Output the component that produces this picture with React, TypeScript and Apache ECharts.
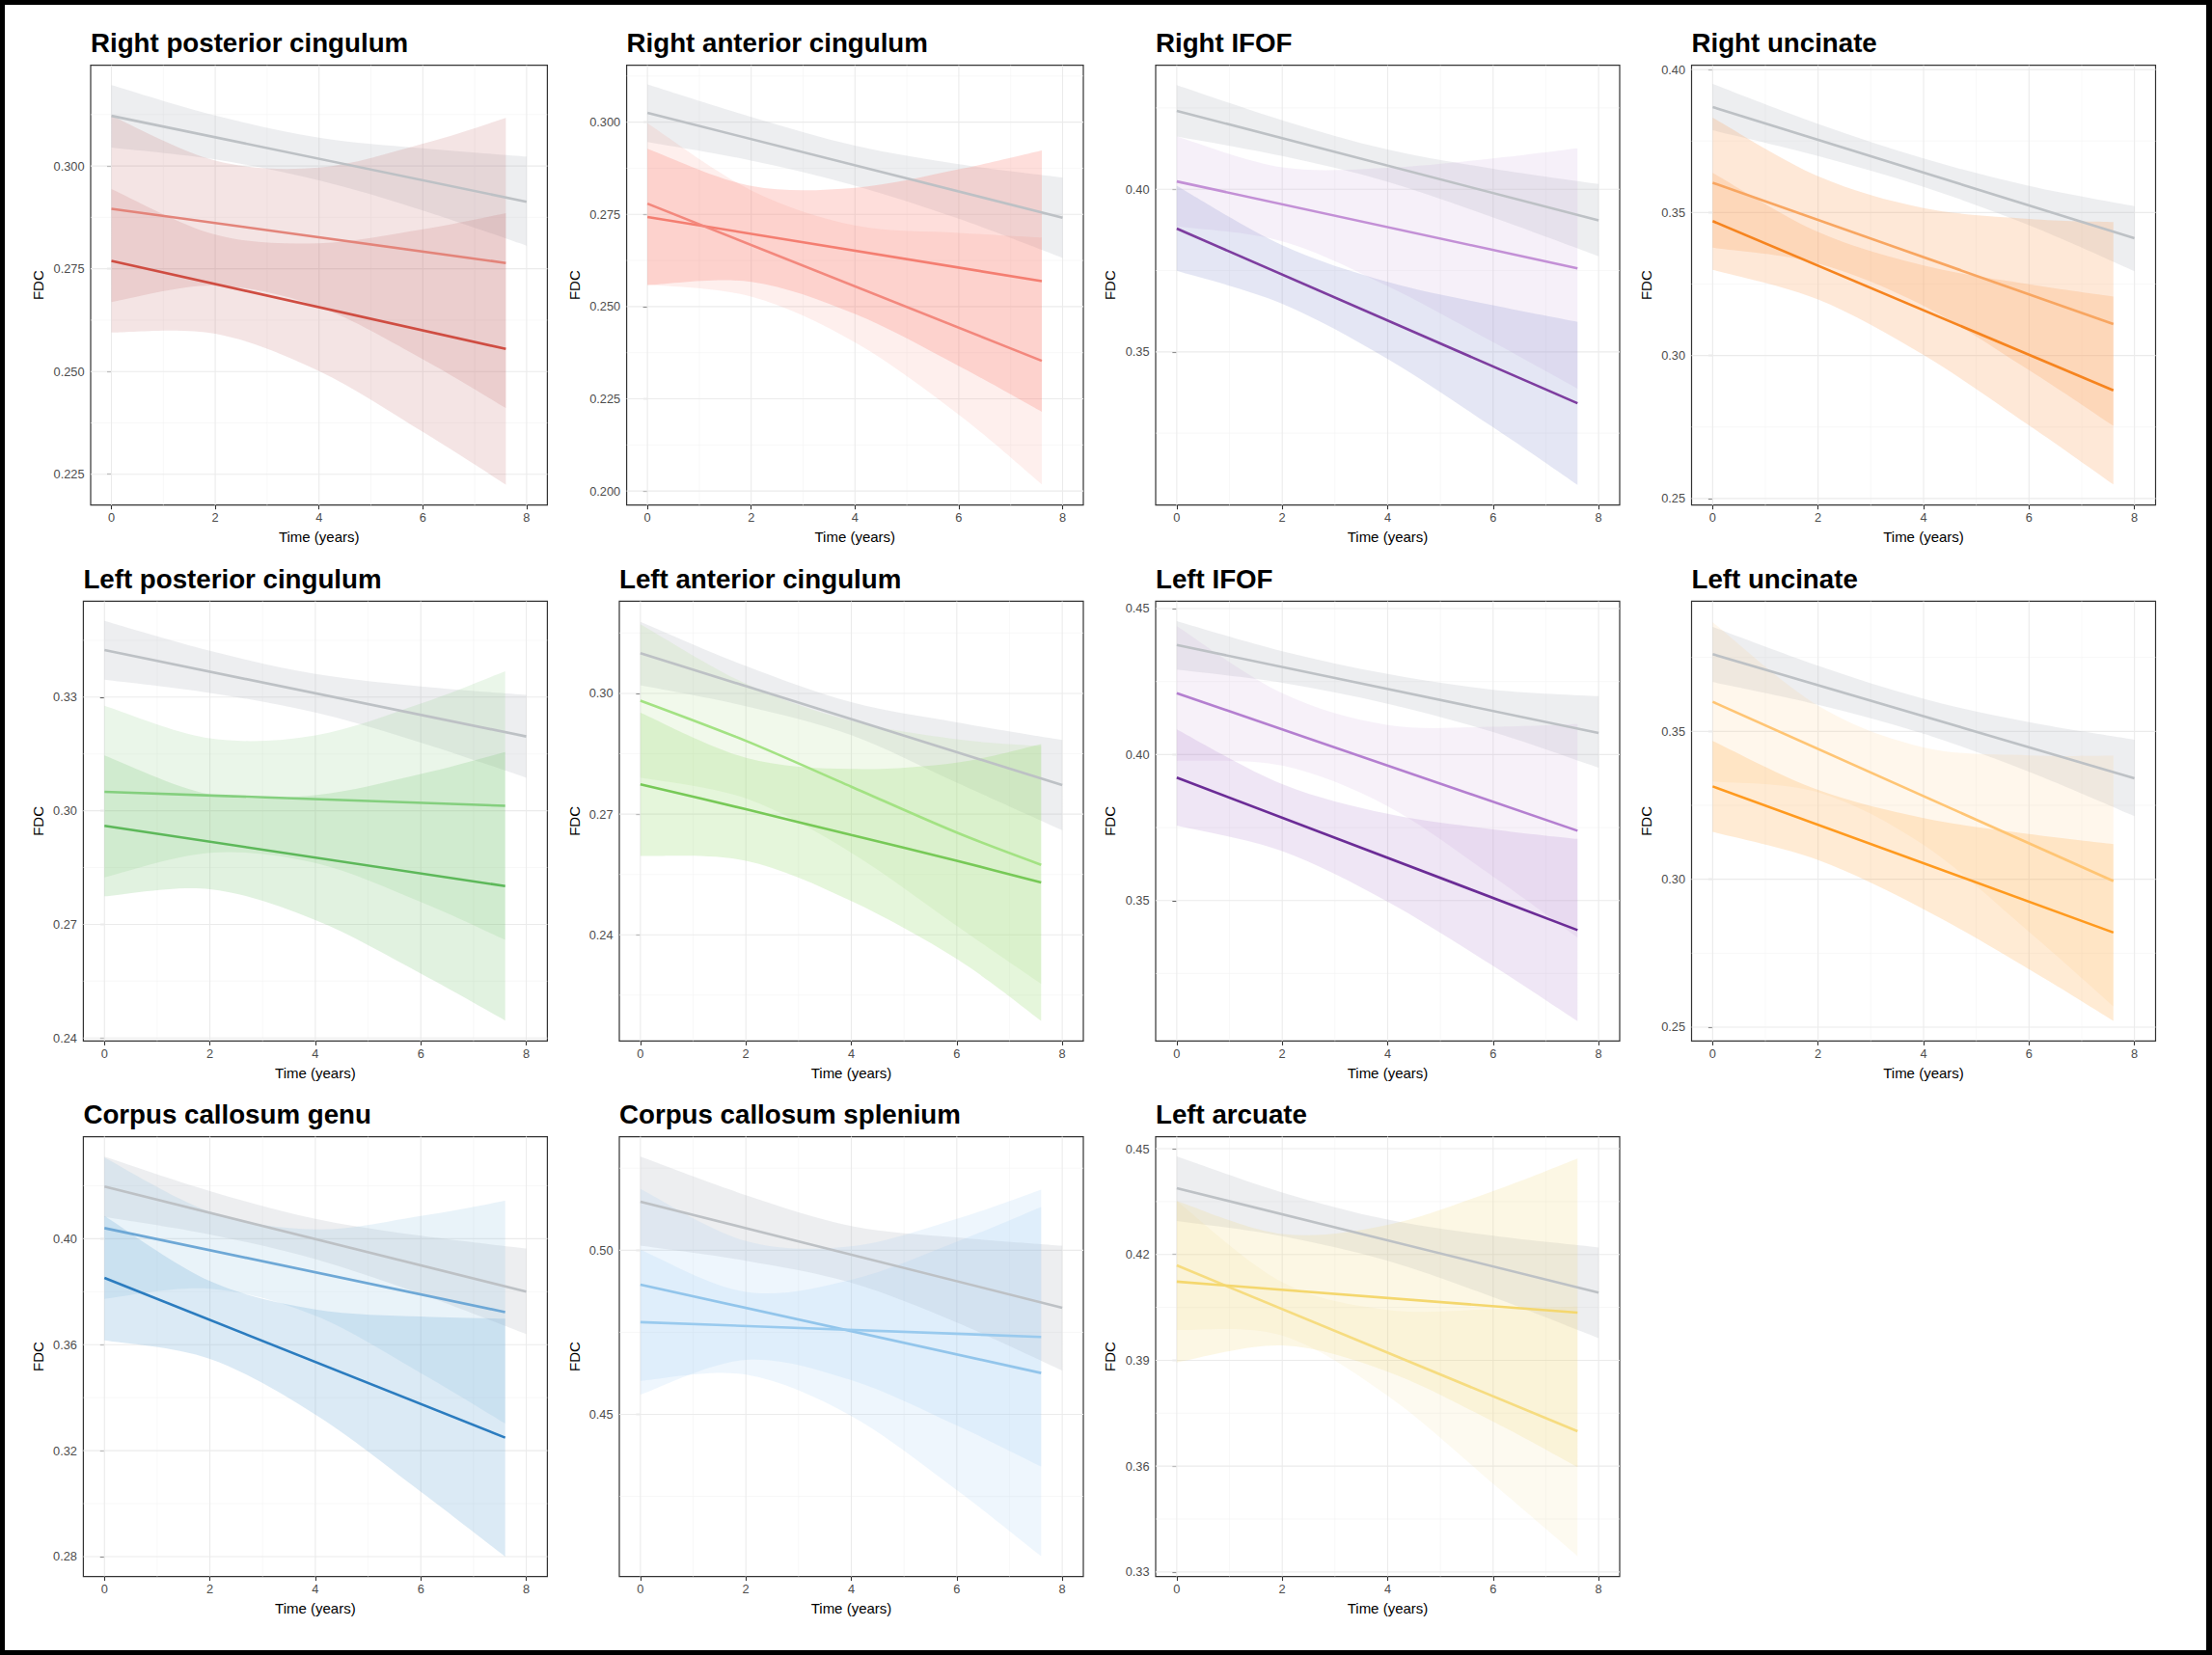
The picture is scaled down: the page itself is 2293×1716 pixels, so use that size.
import React, { useEffect, useRef } from 'react';
import * as echarts from 'echarts';

const W = 2293;
const H = 1716;
const FONT = '"Liberation Sans", Arial, Helvetica, sans-serif';

// ---------------- data ----------------
const titles = [
  'Right posterior cingulum', 'Right anterior cingulum', 'Right IFOF', 'Right uncinate',
  'Left posterior cingulum', 'Left anterior cingulum', 'Left IFOF', 'Left uncinate',
  'Corpus callosum genu', 'Corpus callosum splenium', 'Left arcuate',
];

const xTicks = [0, 2, 4, 6, 8];
const xMinorTicks = [1, 3, 5, 7];
const xRange = [-0.4, 8.4];
const bandX = [0, 2, 4, 6, 7.6];
const greyBandX = [0, 2, 4, 6, 8];
const lineX = [0, 7.6];
const greyLineX = [0, 8];

const yTicks = [
  [0.225, 0.25, 0.275, 0.3],
  [0.2, 0.225, 0.25, 0.275, 0.3],
  [0.35, 0.4],
  [0.25, 0.3, 0.35, 0.4],
  [0.24, 0.27, 0.3, 0.33],
  [0.24, 0.27, 0.3],
  [0.35, 0.4, 0.45],
  [0.25, 0.3, 0.35],
  [0.28, 0.32, 0.36, 0.4],
  [0.45, 0.5],
  [0.33, 0.36, 0.39, 0.42, 0.45],
];
const yDecimals = [3, 3, 2, 2, 2, 2, 2, 2, 2, 2, 2];
const yRange = [
  [0.2175, 0.3245],
  [0.1962, 0.3154],
  [0.3029, 0.4381],
  [0.2477, 0.4015],
  [0.2392, 0.3553],
  [0.2136, 0.3229],
  [0.3019, 0.4525],
  [0.2453, 0.394],
  [0.2725, 0.4385],
  [0.4006, 0.5346],
  [0.3287, 0.4534],
];

const greyLine = [
  [0.3122, 0.2913], [0.3025, 0.2741], [0.4241, 0.3904], [0.3869, 0.341],
  [0.3424, 0.3196], [0.31, 0.2772], [0.4375, 0.4074], [0.3761, 0.3341],
  [0.4197, 0.38], [0.5148, 0.4825], [0.4388, 0.4092],
];
const greyUpper = [
  [0.3197, 0.3123, 0.3069, 0.3043, 0.3023],
  [0.3102, 0.3014, 0.2936, 0.2886, 0.285],
  [0.432, 0.4212, 0.4122, 0.4063, 0.4016],
  [0.395, 0.381, 0.3689, 0.3593, 0.3522],
  [0.3501, 0.3422, 0.3361, 0.3328, 0.3306],
  [0.3178, 0.3068, 0.2978, 0.2928, 0.2884],
  [0.4457, 0.4354, 0.4276, 0.4222, 0.42],
  [0.3853, 0.3722, 0.361, 0.3531, 0.3472],
  [0.431, 0.418, 0.4075, 0.4011, 0.3963],
  [0.5285, 0.5168, 0.5074, 0.5039, 0.5014],
  [0.4478, 0.4376, 0.4299, 0.4253, 0.422],
];
const greyLower = [
  [0.3045, 0.3016, 0.2965, 0.2892, 0.2806],
  [0.2946, 0.2896, 0.2828, 0.2738, 0.2632],
  [0.4162, 0.4102, 0.4023, 0.3913, 0.3794],
  [0.3788, 0.3698, 0.359, 0.3456, 0.3295],
  [0.3346, 0.3311, 0.3259, 0.318, 0.3087],
  [0.302, 0.2968, 0.2896, 0.2778, 0.266],
  [0.4291, 0.4246, 0.4174, 0.4077, 0.3955],
  [0.3667, 0.359, 0.3492, 0.3363, 0.3213],
  [0.4082, 0.4016, 0.3923, 0.3791, 0.364],
  [0.5014, 0.4968, 0.4901, 0.478, 0.4634],
  [0.4295, 0.4252, 0.4182, 0.4079, 0.3963],
];

const lineA = [
  [0.2896, 0.2764], [0.2743, 0.2569], [0.4024, 0.3757], [0.3604, 0.311],
  [0.305, 0.3013], [0.2982, 0.2882, 0.2768, 0.2654, 0.2574], [0.421, 0.3739], [0.36, 0.2994],
  [0.404, 0.3723], [0.4895, 0.4626], [0.4169, 0.3699],
];
const lineB = [
  [0.2769, 0.2555], [0.2779, 0.2353], [0.3879, 0.3342], [0.347, 0.2878],
  [0.296, 0.2801], [0.2774, 0.2712, 0.2648, 0.2584, 0.253], [0.3921, 0.3399], [0.3314, 0.282],
  [0.3852, 0.3249], [0.4781, 0.4736], [0.4123, 0.4035],
];
const upperA = [
  [0.3122, 0.3013, 0.2996, 0.3054, 0.3117],
  [0.2928, 0.2827, 0.2822, 0.2872, 0.2923],
  [0.4162, 0.4067, 0.4066, 0.4095, 0.4126],
  [0.3832, 0.3627, 0.3516, 0.3478, 0.3467],
  [0.3277, 0.3191, 0.3199, 0.3283, 0.3368],
  [0.3172, 0.3024, 0.2932, 0.2886, 0.2869],
  [0.444, 0.421, 0.4101, 0.4095, 0.4104],
  [0.3869, 0.3587, 0.3446, 0.3419, 0.3418],
  [0.4306, 0.4102, 0.4035, 0.4086, 0.4143],
  [0.5187, 0.5028, 0.5012, 0.5096, 0.5185],
  [0.4352, 0.4121, 0.4043, 0.4045, 0.4052],
];
const lowerA = [
  [0.2669, 0.2709, 0.2657, 0.253, 0.2411],
  [0.2558, 0.2567, 0.248, 0.2339, 0.2215],
  [0.3886, 0.384, 0.3702, 0.353, 0.3387],
  [0.3377, 0.3322, 0.3174, 0.2949, 0.2754],
  [0.2824, 0.2889, 0.2862, 0.2759, 0.2659],
  [0.2791, 0.2739, 0.2604, 0.2422, 0.2278],
  [0.3979, 0.3962, 0.3823, 0.3582, 0.3374],
  [0.3331, 0.3294, 0.3116, 0.2822, 0.257],
  [0.3773, 0.3811, 0.3709, 0.3493, 0.3302],
  [0.4602, 0.4621, 0.4495, 0.4269, 0.4068],
  [0.3986, 0.397, 0.3799, 0.355, 0.3345],
];
const upperB = [
  [0.2944, 0.2833, 0.2812, 0.2846, 0.2885],
  [0.2997, 0.2815, 0.272, 0.27, 0.2687],
  [0.401, 0.3828, 0.3715, 0.3643, 0.3592],
  [0.3639, 0.3432, 0.3315, 0.3249, 0.3206],
  [0.3146, 0.3043, 0.3041, 0.3097, 0.3155],
  [0.2952, 0.284, 0.2812, 0.2828, 0.2874],
  [0.4086, 0.3899, 0.3797, 0.3744, 0.3711],
  [0.3468, 0.3302, 0.3207, 0.3153, 0.3119],
  [0.4086, 0.384, 0.3733, 0.3706, 0.3698],
  [0.5002, 0.4873, 0.491, 0.5026, 0.5132],
  [0.4352, 0.4258, 0.4284, 0.438, 0.4472],
];
const lowerB = [
  [0.2595, 0.2592, 0.2501, 0.2353, 0.2225],
  [0.256, 0.2527, 0.2403, 0.2207, 0.2018],
  [0.3749, 0.3648, 0.3478, 0.3268, 0.3091],
  [0.33, 0.3196, 0.3002, 0.2756, 0.2549],
  [0.2774, 0.2793, 0.2711, 0.257, 0.2446],
  [0.2596, 0.2584, 0.2484, 0.234, 0.2186],
  [0.3757, 0.3669, 0.3496, 0.3276, 0.3087],
  [0.316, 0.3065, 0.2899, 0.2696, 0.2521],
  [0.3616, 0.3546, 0.3336, 0.3045, 0.28],
  [0.456, 0.4666, 0.4604, 0.4466, 0.4341],
  [0.3894, 0.3942, 0.3868, 0.3726, 0.3597],
];

// ---------------- styles ----------------
const lineColorA = ['#e3847a', '#f47e71', '#c390d6', '#f8a661', '#84cf7e', '#a3e283', '#b47fd0', '#ffc574', '#6ea8d6', '#92c5eb', '#f6dc80'];
const lineColorB = ['#cf4d42', '#f3887d', '#7d3d9f', '#f6841f', '#5db85a', '#77c957', '#6b2c96', '#ff9a1f', '#2b7cbf', '#99caee', '#f4d76e'];
const bandColorA = [
  'rgba(195,105,105,0.18)', 'rgba(250,125,110,0.25)', 'rgba(190,150,215,0.14)', 'rgba(250,165,95,0.25)',
  'rgba(140,205,135,0.18)', 'rgba(175,222,145,0.18)', 'rgba(195,155,215,0.14)', 'rgba(255,200,130,0.15)',
  'rgba(140,190,225,0.19)', 'rgba(150,200,240,0.16)', 'rgba(240,222,150,0.14)',
];
const bandColorB = [
  'rgba(195,105,105,0.18)', 'rgba(250,125,110,0.12)', 'rgba(130,140,205,0.22)', 'rgba(250,165,95,0.25)',
  'rgba(120,195,115,0.22)', 'rgba(150,220,110,0.25)', 'rgba(170,120,200,0.19)', 'rgba(255,170,70,0.23)',
  'rgba(110,170,215,0.25)', 'rgba(150,200,240,0.16)', 'rgba(240,215,110,0.19)',
];
const GREY_LINE = '#bdc1c5';
const GREY_BAND = 'rgba(180,186,192,0.24)';

// layout
const rowTop = [67.7, 623.4, 1178.6];
const plotH = 456;
const colRight = [567.4, 1123.0, 1679.0, 2234.5];
const colFdcX = [39.5, 595.2, 1150.9, 1706.6];

function curve(pts: number[][]): string {
  let d = '';
  for (let i = 0; i < pts.length - 1; i++) {
    const p0 = pts[i - 1] || pts[i];
    const p1 = pts[i];
    const p2 = pts[i + 1];
    const p3 = pts[i + 2] || p2;
    const t = 1 / 6;
    const c1x = p1[0] + (p2[0] - p0[0]) * t;
    const c1y = p1[1] + (p2[1] - p0[1]) * t;
    const c2x = p2[0] - (p3[0] - p1[0]) * t;
    const c2y = p2[1] - (p3[1] - p1[1]) * t;
    d += ` C${c1x.toFixed(2)} ${c1y.toFixed(2)} ${c2x.toFixed(2)} ${c2y.toFixed(2)} ${p2[0].toFixed(2)} ${p2[1].toFixed(2)}`;
  }
  return d;
}

export default function App() {
  const ref = useRef<HTMLDivElement>(null);

  useEffect(() => {
    if (!ref.current) return;
    const chart = echarts.init(ref.current, null, { renderer: 'svg', width: W, height: H });

    const grids: any[] = [];
    const xAxes: any[] = [];
    const yAxes: any[] = [];
    const series: any[] = [];
    const graphics: any[] = [];

    titles.forEach((title, i) => {
      const row = Math.floor(i / 4);
      const col = i % 4;
      const top = rowTop[row];
      const bottom = top + plotH;
      const right = colRight[col];
      const left = right - (yDecimals[i] === 3 ? 473.4 : 481);
      const [ymin, ymax] = yRange[i];
      const ticks = yTicks[i];
      const step = ticks[1] - ticks[0];
      const yMinor = [ticks[0] - step / 2]
        .concat(ticks.slice(0, -1).map((t, k) => (t + ticks[k + 1]) / 2))
        .concat([ticks[ticks.length - 1] + step / 2])
        .filter((v) => v > ymin && v < ymax);

      grids.push({
        left, top, width: right - left, height: plotH,
        show: true, borderColor: '#333333', borderWidth: 1.2,
        backgroundColor: 'rgba(0,0,0,0)', containLabel: false, outerBoundsMode: 'none',
      });
      xAxes.push({
        gridIndex: i, type: 'value', min: xRange[0], max: xRange[1],
        axisLine: { show: false },
        axisTick: { show: true, length: 4.5, customValues: xTicks, lineStyle: { color: '#333333', width: 1.1 } },
        axisLabel: {
          show: true, customValues: xTicks, formatter: (v: number) => String(v),
          color: '#4d4d4d', fontSize: 12.8, fontFamily: FONT, margin: 6.5,
        },
        splitLine: { show: false },
      });
      yAxes.push({
        gridIndex: i, type: 'value', min: ymin, max: ymax,
        axisLine: { show: false },
        axisTick: { show: true, length: 4.5, customValues: ticks, lineStyle: { color: '#333333', width: 1.1 } },
        axisLabel: {
          show: true, customValues: ticks, formatter: (v: number) => v.toFixed(yDecimals[i]),
          color: '#4d4d4d', fontSize: 12.8, fontFamily: FONT, margin: 6.4,
        },
        splitLine: { show: false },
      });

      // panel grid lines
      series.push({
        type: 'custom', xAxisIndex: i, yAxisIndex: i, z: 1, silent: true,
        data: [[0, ymin]],
        renderItem: (params: any, api: any) => {
          const cs = params.coordSys;
          const ch: any[] = [];
          const hl = (v: number, major: boolean) => {
            const y = api.coord([0, v])[1];
            ch.push({ type: 'line', shape: { x1: cs.x, y1: y, x2: cs.x + cs.width, y2: y },
              style: { stroke: major ? '#ebebeb' : '#f3f3f3', lineWidth: major ? 1.1 : 0.6 } });
          };
          const vl = (v: number, major: boolean) => {
            const x = api.coord([v, ymin])[0];
            ch.push({ type: 'line', shape: { x1: x, y1: cs.y, x2: x, y2: cs.y + cs.height },
              style: { stroke: major ? '#ebebeb' : '#f3f3f3', lineWidth: major ? 1.1 : 0.6 } });
          };
          yMinor.forEach((v) => hl(v, false));
          xMinorTicks.forEach((v) => vl(v, false));
          ticks.forEach((v) => hl(v, true));
          xTicks.forEach((v) => vl(v, true));
          return { type: 'group', children: ch };
        },
      });

      const band = (xs: number[], lo: number[], hi: number[], color: string) => {
        const rows = xs.map((x, k) => [x, lo[k], hi[k]]);
        series.push({
          type: 'custom', xAxisIndex: i, yAxisIndex: i, z: 2, silent: true,
          data: rows, encode: { x: 0, y: [1, 2] },
          renderItem: (params: any, api: any) => {
            if (params.dataIndex !== 0) return null;
            const up = rows.map((r) => api.coord([r[0], r[2]]));
            const dn = rows.map((r) => api.coord([r[0], r[1]])).reverse();
            const d = `M${up[0][0].toFixed(2)} ${up[0][1].toFixed(2)}` + curve(up)
              + ` L${dn[0][0].toFixed(2)} ${dn[0][1].toFixed(2)}` + curve(dn) + ' Z';
            return { type: 'path', shape: { pathData: d }, style: { fill: color } };
          },
        });
      };
      band(greyBandX, greyLower[i], greyUpper[i], GREY_BAND);
      band(bandX, lowerA[i], upperA[i], bandColorA[i]);
      band(bandX, lowerB[i], upperB[i], bandColorB[i]);

      const line = (vals: number[], xs: number[], color: string) => {
        series.push({
          type: 'line', xAxisIndex: i, yAxisIndex: i, z: 3, silent: true,
          symbol: 'none', smooth: vals.length > 2 ? 0.3 : false,
          data: vals.map((v, k) => [xs[k], v]),
          lineStyle: { color, width: 2.6 }, itemStyle: { color },
        });
      };
      line(greyLine[i], greyLineX, GREY_LINE);
      line(lineA[i], lineA[i].length > 2 ? bandX : lineX, lineColorA[i]);
      line(lineB[i], lineB[i].length > 2 ? bandX : lineX, lineColorB[i]);

      graphics.push({
        type: 'text', x: left, y: top - 22.9, silent: true,
        style: { text: title, fill: '#000', fontSize: 27.7, fontWeight: 'bold', fontFamily: FONT,
          align: 'left', verticalAlign: 'middle', textAlign: 'left', textVerticalAlign: 'middle' },
      });
      graphics.push({
        type: 'text', x: colFdcX[col], y: (top + bottom) / 2, rotation: Math.PI / 2, silent: true,
        style: { text: 'FDC', fill: '#000', fontSize: 15, fontFamily: FONT,
          align: 'center', verticalAlign: 'middle', textAlign: 'center', textVerticalAlign: 'middle' },
      });
      graphics.push({
        type: 'text', x: (left + right) / 2, y: bottom + 33, silent: true,
        style: { text: 'Time (years)', fill: '#000', fontSize: 15, fontFamily: FONT,
          align: 'center', verticalAlign: 'middle', textAlign: 'center', textVerticalAlign: 'middle' },
      });
    });

    chart.setOption({
      animation: false,
      backgroundColor: '#ffffff',
      grid: grids,
      xAxis: xAxes,
      yAxis: yAxes,
      series,
      graphic: { elements: graphics },
    });

    return () => chart.dispose();
  }, []);

  return (
    <>
      <div ref={ref} style={{ position: 'absolute', left: 0, top: 0, width: W, height: H, background: '#fff' }} />
      <div
        style={{
          position: 'absolute', left: 0, top: 0, width: W, height: H, boxSizing: 'border-box',
          border: '5px solid #000', borderRightWidth: 6, pointerEvents: 'none',
        }}
      />
    </>
  );
}
